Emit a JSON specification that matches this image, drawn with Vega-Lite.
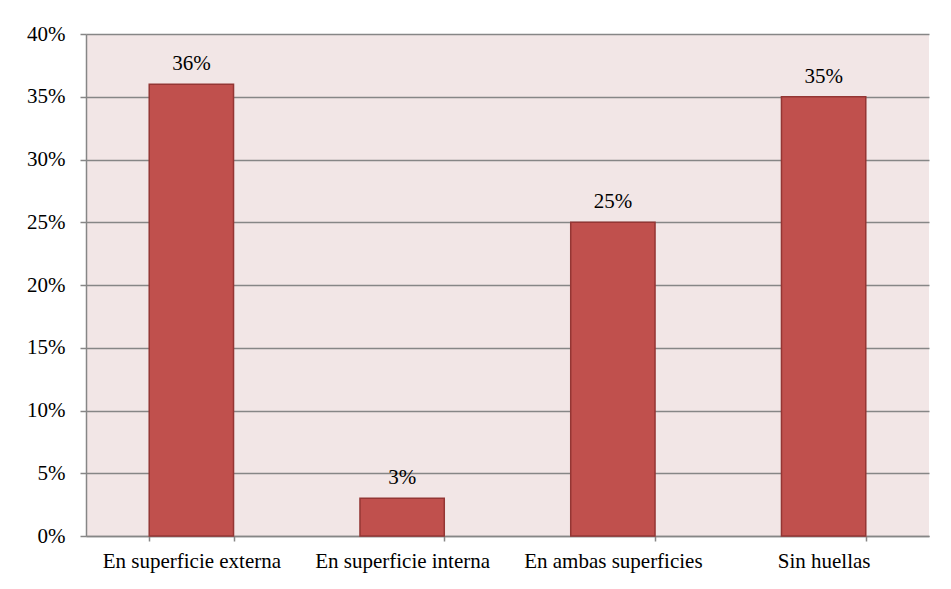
{
  "$schema": "https://vega.github.io/schema/vega-lite/v6.json",
  "width": 843,
  "height": 502,
  "padding": {"left": 86, "top": 34, "right": 22, "bottom": 53},
  "autosize": {"type": "none"},
  "background": "white",
  "config": {
    "view": {"fill": "#F2E6E6", "stroke": null},
    "font": "Liberation Serif"
  },
  "data": {
    "values": [
      {"categoria": "En superficie externa", "valor": 0.36},
      {"categoria": "En superficie interna", "valor": 0.03},
      {"categoria": "En ambas superficies", "valor": 0.25},
      {"categoria": "Sin huellas", "valor": 0.35}
    ]
  },
  "encoding": {
    "x": {
      "field": "categoria",
      "type": "nominal",
      "sort": null,
      "scale": {"paddingInner": 0.6, "paddingOuter": 0.3},
      "axis": {
        "title": null,
        "labelAngle": 0,
        "labelFont": "Liberation Serif",
        "labelFontSize": 21,
        "labelColor": "black",
        "labelPadding": 9,
        "bandPosition": 0,
        "tickBand": "extent",
        "tickSize": 5,
        "tickColor": "#868686",
        "tickWidth": 1.5,
        "domainColor": "#868686",
        "domainWidth": 1.5,
        "grid": false
      }
    },
    "y": {
      "field": "valor",
      "type": "quantitative",
      "scale": {"domain": [0, 0.4], "nice": false},
      "axis": {
        "title": null,
        "values": [0, 0.05, 0.1, 0.15, 0.2, 0.25, 0.3, 0.35, 0.4],
        "format": ".0%",
        "labelFont": "Liberation Serif",
        "labelFontSize": 21,
        "labelColor": "black",
        "labelPadding": 15,
        "tickSize": 6,
        "tickColor": "#868686",
        "tickWidth": 1.5,
        "domainColor": "#868686",
        "domainWidth": 1.5,
        "grid": true,
        "gridColor": "#868686",
        "gridWidth": 1.5,
        "gridOpacity": 1
      }
    }
  },
  "layer": [
    {
      "mark": {"type": "bar", "fill": "#C0504D", "stroke": "#943634", "strokeWidth": 1.5}
    },
    {
      "mark": {"type": "text", "baseline": "alphabetic", "dy": -14, "fontSize": 21, "font": "Liberation Serif", "color": "black"},
      "encoding": {"text": {"field": "valor", "type": "quantitative", "format": ".0%"}}
    }
  ]
}
